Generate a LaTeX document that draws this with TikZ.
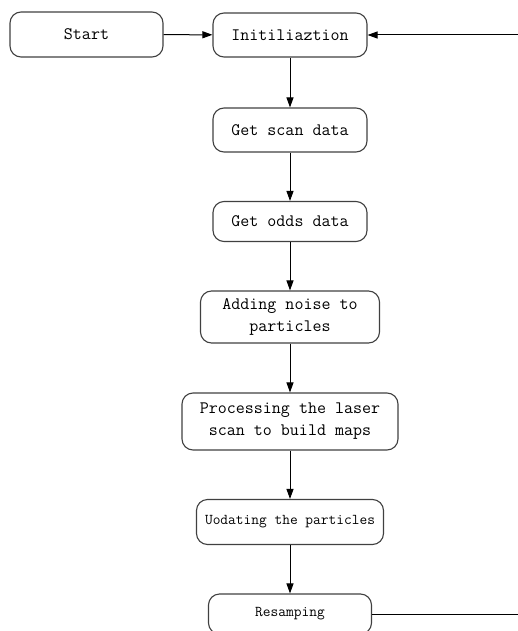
\documentclass[tikz,border=0pt]{standalone}
\usepackage{tikz}
\usetikzlibrary{arrows.meta}

\begin{document}
\begin{tikzpicture}[x=1pt, y=-1pt,
    box/.style={draw=black!75, line width=1.1pt, rounded corners=11pt, inner sep=0pt,
      align=center, font=\ttfamily\fontsize{17.5}{22}\selectfont},
    smallbox/.style={box, font=\ttfamily\fontsize{15}{19}\selectfont},
    flow/.style={-{Triangle[length=10pt, width=7pt]}, line width=1pt}]
          \useasboundingbox (0, 0) rectangle (518, 631);
          \clip (0, 0) rectangle (518, 631);
          \node [box, minimum width=153pt, minimum height=45pt] (start) at (86.5, 34.5) {Start};
          \node [box, minimum width=154pt, minimum height=44pt] (init) at (290, 35) {Initiliaztion};
          \node [box, minimum width=154pt, minimum height=44pt] (scan) at (290, 130) {Get scan data};
          \node [box, minimum width=154pt, minimum height=40pt] (odds) at (290, 221.5) {Get odds data};
          \node [box, minimum width=179pt, minimum height=52pt] (noise) at (290, 317) {Adding noise to\\particles};
          \node [box, minimum width=216pt, minimum height=57pt] (laser) at (290, 421.5) {Processing the laser\\scan to build maps};
          \node [smallbox, minimum width=187pt, minimum height=45pt] (update) at (290, 522) {Uodating the particles};
          \node [smallbox, minimum width=163pt, minimum height=40pt] (resamp) at (290, 614) {Resamping};
          \coordinate (loopin) at (518, 35);
          \coordinate (loopout) at (518, 614);
          \draw [flow] (start) -- (init);
          \draw [flow] (loopin) -- (init);
          \draw [flow] (init) -- (scan);
          \draw [flow] (scan) -- (odds);
          \draw [flow] (odds) -- (noise);
          \draw [flow] (noise) -- (laser);
          \draw [flow] (laser) -- (update);
          \draw [flow] (update) -- (resamp);
          \draw [line width=1pt] (resamp) -- (loopout);
        \end{tikzpicture}
\end{document}
